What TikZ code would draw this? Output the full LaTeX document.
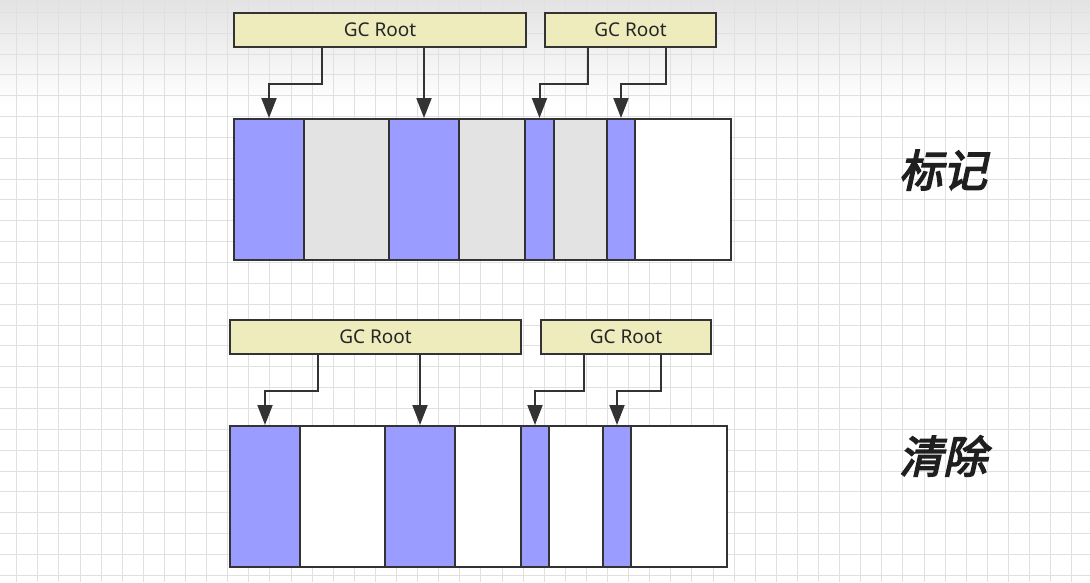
\documentclass[tikz,border=0pt]{standalone}
\usepackage{fontspec}
\setmainfont{Noto Sans}
\newfontfamily\cjk[FakeSlant=0.22,FakeBold=3.5]{Noto Sans CJK SC}
\usetikzlibrary{arrows.meta}
\definecolor{live}{HTML}{9A9DFF}
\definecolor{dead}{HTML}{E3E3E3}
\definecolor{rootfill}{HTML}{EEECBC}
\definecolor{edge}{HTML}{333333}
\definecolor{gridc}{HTML}{E0E0E0}
\tikzset{
  cell/.style={draw=edge, line width=2pt, inner sep=0pt, minimum height=141pt, anchor=north west},
  rootbox/.style={draw=edge, line width=2pt, fill=rootfill, inner sep=0pt, minimum height=34pt, anchor=north west, font=\fontsize{19}{21}\selectfont, text=black!85},
  conn/.style={draw=edge, line width=2pt, -{Triangle[width=15pt,length=20pt]}},
  phase/.style={font=\cjk\fontsize{44}{48}\selectfont, text=black!88}
}
\begin{document}
\begin{tikzpicture}[x=1pt,y=-1pt]
\useasboundingbox (0,0) rectangle (1090,582);
\fill[white] (0,0) rectangle (1090,582);
\shade[top color=black!11, bottom color=white] (0,0) rectangle (1090,105);
\foreach \k in {0,...,51} {
  \draw[gridc, line width=1pt] ({16.7+21.1*\k},0) -- ({16.7+21.1*\k},582);
}
\foreach \k in {-1,...,28} {
  \draw[gridc, line width=1pt] (0,{12.3+20.85*\k}) -- (1090,{12.3+20.85*\k});
}

% ---------- top: mark ----------
\node[rootbox, minimum width=292pt] (r1) at (233,12) {GC Root};
\node[rootbox, minimum width=171pt] (r2) at (544,12) {GC Root};

\node[cell, fill=live, minimum width=70pt] (a1) at (233,118) {};
\node[cell, fill=dead, minimum width=85pt] (a2) at (303,118) {};
\node[cell, fill=live, minimum width=70pt] (a3) at (388,118) {};
\node[cell, fill=dead, minimum width=66pt] (a4) at (458,118) {};
\node[cell, fill=live, minimum width=29pt] (a5) at (524,118) {};
\node[cell, fill=dead, minimum width=53pt] (a6) at (553,118) {};
\node[cell, fill=live, minimum width=28pt] (a7) at (606,118) {};
\node[cell, fill=white, minimum width=96pt] (a8) at (634,118) {};

\draw[conn] ([xshift=89pt]r1.south west) -- ++(0,36) -| (a1.north);
\draw[conn] (r1.south -| a3.north) -- (a3.north);
\draw[conn] ([xshift=44pt]r2.south west) -- ++(0,36) -| (a5.north);
\draw[conn] ([xshift=122pt]r2.south west) -- ++(0,36) -| (a7.north);

\node[phase] (mark) at (943,170) {标记};

% ---------- bottom: sweep ----------
\node[rootbox, minimum width=291pt] (s1) at (229,319) {GC Root};
\node[rootbox, minimum width=170pt] (s2) at (540,319) {GC Root};

\node[cell, fill=live, minimum width=70pt] (b1) at (229,425) {};
\node[cell, fill=white, minimum width=85pt] (b2) at (299,425) {};
\node[cell, fill=live, minimum width=70pt] (b3) at (384,425) {};
\node[cell, fill=white, minimum width=66pt] (b4) at (454,425) {};
\node[cell, fill=live, minimum width=28pt] (b5) at (520,425) {};
\node[cell, fill=white, minimum width=54pt] (b6) at (548,425) {};
\node[cell, fill=live, minimum width=28pt] (b7) at (602,425) {};
\node[cell, fill=white, minimum width=96pt] (b8) at (630,425) {};

\draw[conn] ([xshift=89pt]s1.south west) -- ++(0,36) -| (b1.north);
\draw[conn] (s1.south -| b3.north) -- (b3.north);
\draw[conn] ([xshift=44pt]s2.south west) -- ++(0,36) -| (b5.north);
\draw[conn] ([xshift=121pt]s2.south west) -- ++(0,36) -| (b7.north);

\node[phase] (sweep) at (943,456) {清除};
\end{tikzpicture}
\end{document}
